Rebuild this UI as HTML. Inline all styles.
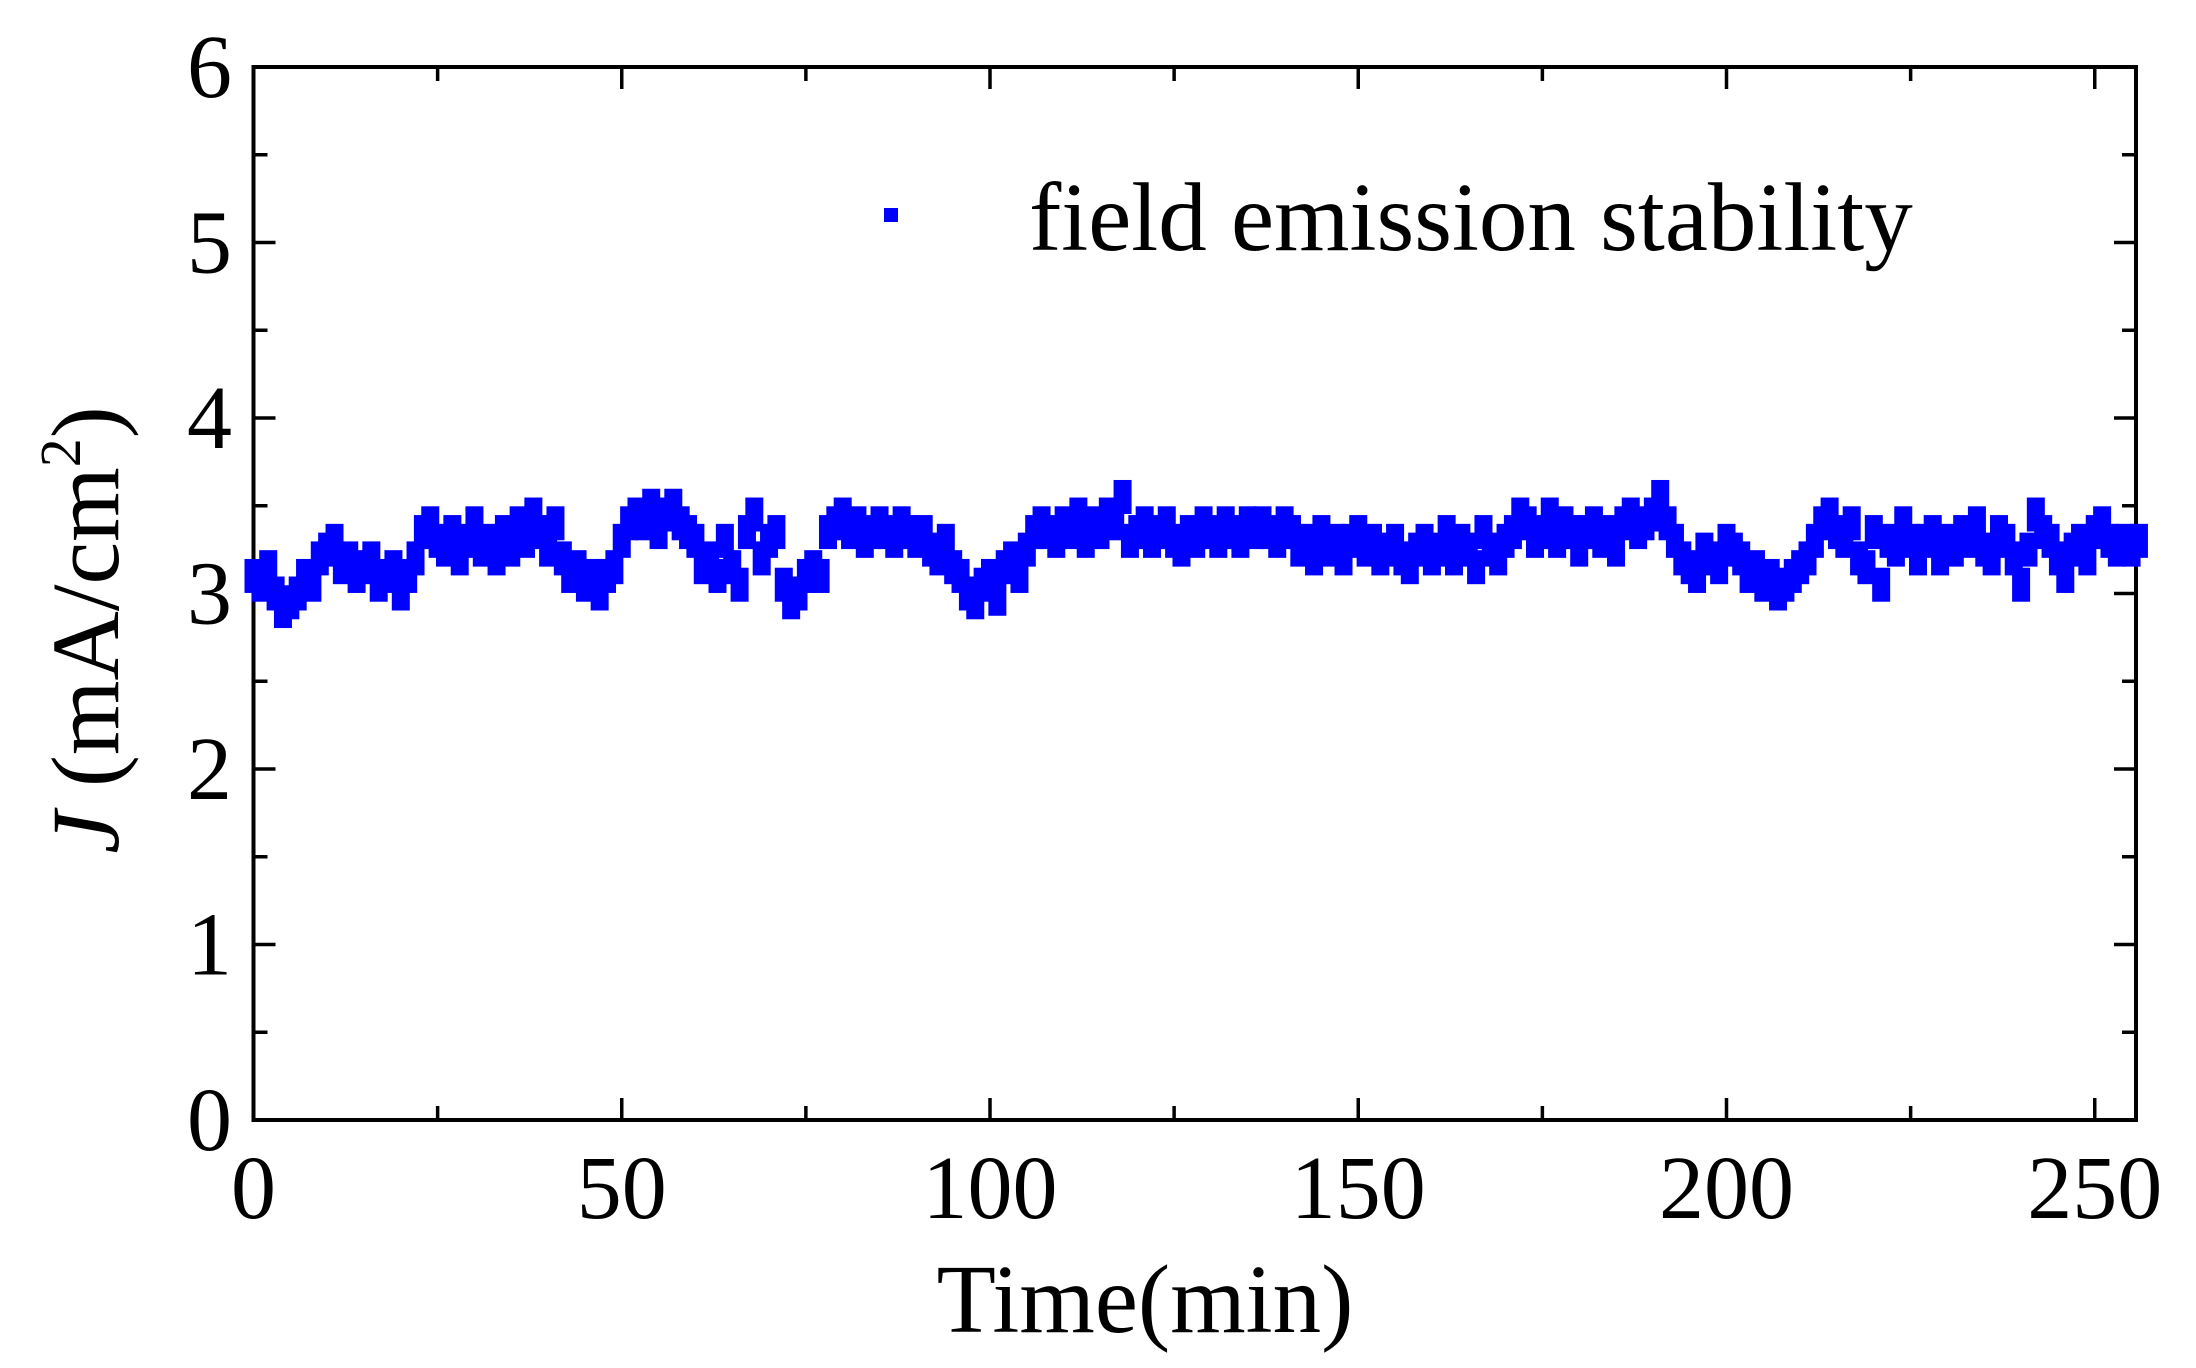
<!DOCTYPE html>
<html><head><meta charset="utf-8"><style>
html,body{margin:0;padding:0;background:#fff;}
svg{display:block;}
text{font-family:"Liberation Serif",serif;fill:#000;}
</style></head><body>
<svg id="chart" width="2196" height="1368" viewBox="0 0 2196 1368" xmlns="http://www.w3.org/2000/svg">
<g id="axes"></g>
<g id="points"></g>
<g>
<rect x="884" y="208" width="14" height="14" fill="#0000ff"/>
<text x="1029" y="250" font-size="97">field emission stability</text>
</g>
<text x="1145" y="1332" font-size="97" text-anchor="middle">Time(min)</text>
<text transform="translate(118,630) rotate(-90)" font-size="96" text-anchor="middle"><tspan font-style="italic">J</tspan> (mA/cm<tspan font-size="58" dy="-38">2</tspan><tspan dy="38">)</tspan></text>
</svg>
<script>
const xTicks=[0,50,100,150,200,250];
const yTicks=[0,1,2,3,4,5,6];
const values=[
3.1,3.05,3.15,3.0,2.9,2.95,
3.0,3.1,3.05,3.2,3.25,3.3,
3.15,3.2,3.1,3.15,3.2,3.05,3.1,3.15,3.0,3.1,
3.2,3.35,3.4,3.3,3.25,3.35,3.2,3.3,3.4,3.25,
3.3,3.2,3.35,3.25,3.4,3.3,3.45,3.35,3.25,3.4,
3.2,3.1,3.15,3.05,3.1,3.0,3.1,3.15,3.3,3.4,
3.45,3.4,3.5,3.35,3.45,3.5,3.4,3.35,3.3,3.15,
3.2,3.1,3.3,3.15,3.05,3.35,3.45,3.2,3.3,3.35,
3.05,2.95,3.0,3.1,3.15,3.1,3.35,3.4,3.45,3.35,
3.4,3.3,3.35,3.4,3.35,3.3,3.4,3.35,3.3,3.35,
3.25,3.2,3.3,3.15,3.1,3.0,2.95,3.05,3.1,2.97,
3.15,3.2,3.1,3.25,3.35,3.4,3.35,3.3,3.4,3.35,
3.45,3.3,3.4,3.35,3.45,3.4,3.55,3.3,3.35,3.4,
3.3,3.35,3.4,3.3,3.25,3.35,3.3,3.4,3.35,3.3,
3.4,3.35,3.3,3.4,3.35,3.4,3.35,3.3,3.4,3.35,
3.25,3.3,3.2,3.35,3.25,3.3,3.2,3.3,3.35,3.25,
3.3,3.2,3.25,3.3,3.2,3.15,3.25,3.3,3.2,3.25,
3.35,3.2,3.3,3.25,3.15,3.35,3.25,3.2,3.3,3.35,
3.45,3.4,3.3,3.35,3.45,3.3,3.4,3.35,3.25,3.35,
3.4,3.3,3.35,3.25,3.4,3.45,3.35,3.4,3.45,3.55,
3.4,3.3,3.2,3.15,3.1,3.25,3.2,3.15,3.3,3.25,
3.2,3.1,3.15,3.05,3.1,3.0,3.05,3.1,3.15,3.2,
3.3,3.4,3.45,3.35,3.3,3.4,3.2,3.15,3.35,3.05,
3.3,3.25,3.4,3.3,3.2,3.3,3.35,3.2,3.3,3.25,
3.35,3.3,3.4,3.25,3.2,3.35,3.3,3.2,3.05,3.25,
3.45,3.35,3.3,3.2,3.1,3.25,3.3,3.2,3.35,3.4,
3.3,3.25,3.3,3.25,3.3];
const times=values.map((v,i)=>i);
const L=253.5,R=2136,T=67,B=1120,XMAX=255.6,YMAX=6;
function sx(t){return L+(R-L)*t/XMAX;}
function sy(v){return B-(B-T)*v/YMAX;}
const NS='http://www.w3.org/2000/svg';
const axes=document.getElementById('axes');
function line(x1,y1,x2,y2,w,name){
 const l=document.createElementNS(NS,'line');
 l.setAttribute('x1',x1);l.setAttribute('y1',y1);l.setAttribute('x2',x2);l.setAttribute('y2',y2);
 l.setAttribute('stroke','#000');l.setAttribute('stroke-width',w);
 
 
 axes.appendChild(l);
}
const frame=document.createElementNS(NS,'rect');
frame.setAttribute('x',L);frame.setAttribute('y',T);frame.setAttribute('width',R-L);frame.setAttribute('height',B-T);
frame.setAttribute('fill','none');frame.setAttribute('stroke','#000');frame.setAttribute('stroke-width',4);


axes.appendChild(frame);
for(let t=0;t<=XMAX;t+=25){
 const major=t%50===0, len=major?22:14, x=sx(t);
 line(x,B,x,B-len,3.5,'x-tick');
 line(x,T,x,T+len,3.5,'x-tick-top');
}
for(let v=0;v<=YMAX;v+=0.5){
 const major=v%1===0, len=major?22:14, y=sy(v);
 line(L,y,L+len,y,3.5,'y-tick');
 line(R,y,R-len,y,3.5,'y-tick-right');
}
xTicks.forEach(t=>{
 const tx=document.createElementNS(NS,'text');
 tx.setAttribute('x',sx(t));tx.setAttribute('y',1218);tx.setAttribute('font-size',90);tx.setAttribute('text-anchor','middle');
 tx.textContent=t;
 
 
 axes.appendChild(tx);
});
yTicks.forEach(v=>{
 const tx=document.createElementNS(NS,'text');
 tx.setAttribute('x',232);tx.setAttribute('y',sy(v)+30);tx.setAttribute('font-size',90);tx.setAttribute('text-anchor','end');
 tx.textContent=v;
 
 
 axes.appendChild(tx);
});
const pts=document.getElementById('points');
values.forEach((v,i)=>{
 const r=document.createElementNS(NS,'rect');
 r.setAttribute('x',sx(times[i])-9);r.setAttribute('y',sy(v)-17);r.setAttribute('width',18);r.setAttribute('height',34);
 r.setAttribute('fill','#0000ff');
 
 
 pts.appendChild(r);
});
</script>
</body></html>
